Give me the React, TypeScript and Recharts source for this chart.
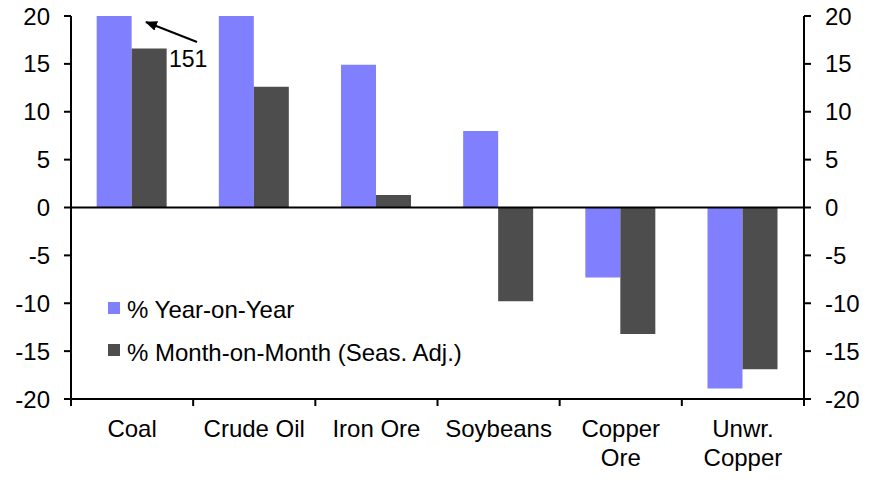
import React from "react";
import {
  BarChart,
  Bar,
  XAxis,
  YAxis,
  ReferenceLine,
  Customized,
} from "recharts";

const categories = ["Coal", "Crude Oil", "Iron Ore", "Soybeans", "Copper\nOre", "Unwr.\nCopper"];
const yearOnYear = [151, 24, 14.9, 8.0, -7.3, -18.9];
const monthOnMonth = [16.6, 12.6, 1.3, -9.8, -13.2, -16.9];
const yTicks = [-20, -15, -10, -5, 0, 5, 10, 15, 20];
const seriesNames = ["% Year-on-Year", "% Month-on-Month (Seas. Adj.)"];

const data = categories.map((name, i) => ({
  name,
  yoy: yearOnYear[i],
  mom: monthOnMonth[i],
}));

const FONT = "'Liberation Sans', Arial, sans-serif";
const BLUE = "#8080ff";
const DARK = "#4d4d4d";

// category label plus the tick marks between categories (Excel style)
function CategoryTick({ x, y, payload, index, width, visibleTicksCount }: any) {
  const lines = String(payload.value).split("\n");
  const band = width / (visibleTicksCount || categories.length);
  const left = x - band / 2;
  const isLast = index === (visibleTicksCount || categories.length) - 1;
  return (
    <g>
      <line x1={left} x2={left} y1={y} y2={y + 7} stroke="#000" strokeWidth={2} />
      {isLast && <line x1={left + band} x2={left + band} y1={y} y2={y + 7} stroke="#000" strokeWidth={2} />}
      <text x={x} y={y} textAnchor="middle" fontFamily={FONT} fontSize={24} fill="#000">
        {lines.map((l, i) => (
          <tspan key={i} x={x} dy={i === 0 ? 38 : 29}>
            {l}
          </tspan>
        ))}
      </text>
    </g>
  );
}

// legend drawn inside the plot, lower left
function LegendBox() {
  const colors = [BLUE, DARK];
  return (
    <g fontFamily={FONT} fontSize={24} fill="#000">
      {seriesNames.map((n, i) => (
        <g key={n}>
          <rect x={108} y={302 + i * 42} width={12} height={12} fill={colors[i]} />
          <text x={127} y={318 + i * 43}>
            {n}
          </text>
        </g>
      ))}
    </g>
  );
}

function Annotation() {
  return (
    <g>
      <defs>
        <marker id="ah" markerWidth="12" markerHeight="10" refX="11" refY="5" orient="auto" markerUnits="userSpaceOnUse">
          <path d="M0,0 L12,5 L0,10 z" fill="#000" />
        </marker>
      </defs>
      <line x1={197} y1={42} x2={146} y2={22} stroke="#000" strokeWidth={2} markerEnd="url(#ah)" />
      <text x={169} y={67} fontFamily={FONT} fontSize={23} fill="#000">
        151
      </text>
    </g>
  );
}

export default function App() {
  return (
    <div style={{ position: "absolute", left: 0, top: 0, background: "#fff" }}>
      <BarChart
        width={880}
        height={483}
        data={data}
        margin={{ top: 16, right: 0, left: 0, bottom: 0 }}
        barCategoryGap="21%"
        barGap={0}
      >
        <XAxis
          dataKey="name"
          height={84}
          axisLine={{ stroke: "#000", strokeWidth: 2 }}
          tickLine={false}
          tickSize={0}
          tickMargin={0}
          interval={0}
          tick={<CategoryTick />}
        />
        <YAxis
          yAxisId="l"
          domain={[-20, 20]}
          ticks={yTicks}
          allowDataOverflow
          width={71}
          tickSize={7}
          tickMargin={14}
          axisLine={{ stroke: "#000", strokeWidth: 2 }}
          tickLine={{ stroke: "#000", strokeWidth: 2 }}
          tick={{ fill: "#000", fontSize: 24, fontFamily: FONT }}
        />
        <YAxis
          yAxisId="r"
          orientation="right"
          domain={[-20, 20]}
          ticks={yTicks}
          allowDataOverflow
          width={76}
          tickSize={7}
          tickMargin={14}
          axisLine={{ stroke: "#000", strokeWidth: 2 }}
          tickLine={{ stroke: "#000", strokeWidth: 2 }}
          tick={{ fill: "#000", fontSize: 24, fontFamily: FONT }}
        />
        <Bar yAxisId="l" dataKey="yoy" name={seriesNames[0]} fill={BLUE} isAnimationActive={false} />
        <Bar yAxisId="l" dataKey="mom" name={seriesNames[1]} fill={DARK} isAnimationActive={false} />
        <ReferenceLine yAxisId="l" y={0} stroke="#000" strokeWidth={2} />
        <Customized component={<LegendBox />} />
        <Customized component={<Annotation />} />
      </BarChart>
    </div>
  );
}
